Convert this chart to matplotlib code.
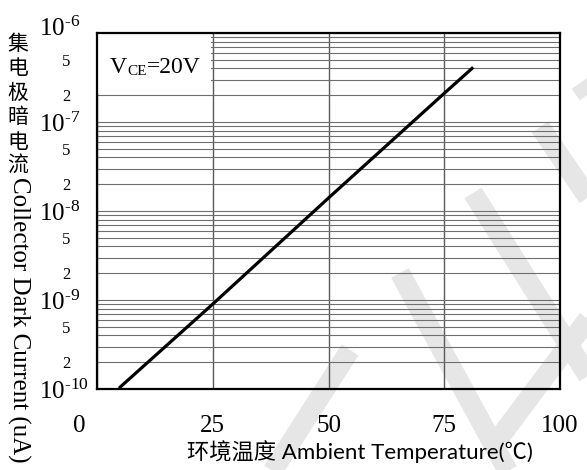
import numpy as np
import matplotlib
matplotlib.use("Agg")
import matplotlib.pyplot as plt
from matplotlib.lines import Line2D
from matplotlib.patches import Rectangle
from matplotlib.ticker import FixedLocator, FuncFormatter
from matplotlib.transforms import ScaledTranslation

plt.rcParams['mathtext.fontset'] = 'custom'
plt.rcParams['mathtext.rm'] = 'Liberation Serif'
plt.rcParams['mathtext.it'] = 'Liberation Serif:italic'

# data
temp = [5, 25, 50, 75, 81]
dark_current = [1.05e-10, 9.0e-10, 1.4e-8, 2.1e-7, 4.0e-7]

x_ticks = [0, 25, 50, 75, 100]
x_labels = ["0", "25", "50", "75", "100"]
decades = [1e-10, 1e-9, 1e-8, 1e-7, 1e-6]
minor_labeled = [2, 5]

W, H = 587, 470
fig = plt.figure(figsize=(W / 100, H / 100), dpi=100)
fig.patch.set_facecolor("white")

def px(x, y):
    return x / W, 1 - y / H

# faint watermark stripes behind the chart
wm = [((272, 472), (350, 350)), ((400, 273), (510, 475)), ((494, 445), (600, 303)),
      ((473, 193), (600, 395)), ((540, 127), (600, 215)), ((580, 83), (600, 112))]
for (a, b) in wm:
    (x0, y0), (x1, y1) = px(*a), px(*b)
    fig.add_artist(Line2D([x0, x1], [y0, y1], transform=fig.transFigure, color="#e6e6e6",
                          lw=14.5, solid_capstyle="butt", zorder=-1))

ax = fig.add_axes([97 / W, 1 - 389 / H, 463 / W, 356 / H])
ax.set_facecolor("none")
ax.set_yscale("log")
ax.set_xlim(0, 100)
ax.set_ylim(1e-10, 1e-6)

ax.plot(temp, dark_current, color="black", lw=2.3, zorder=3)

# grid
ax.set_axisbelow(True)
ax.xaxis.set_major_locator(FixedLocator(x_ticks))
ax.set_xticklabels(x_labels)
ax.yaxis.set_major_locator(FixedLocator(decades))
minors = [m * d for d in decades[:-1] for m in range(2, 10)]
ax.yaxis.set_minor_locator(FixedLocator(minors))

def major_fmt(v, pos):
    e = int(round(np.log10(v)))
    return r"$\mathregular{10^{\text{-}%d}}$" % abs(e)

def minor_fmt(v, pos):
    m = int(round(v / 10 ** np.floor(np.log10(v) + 1e-9)))
    return str(m) if m in minor_labeled else ""

ax.yaxis.set_major_formatter(FuncFormatter(major_fmt))
ax.yaxis.set_minor_formatter(FuncFormatter(minor_fmt))
ax.grid(True, which="major", axis="x", color="#5a5a5a", lw=1.0)
ax.grid(True, which="both", axis="y", color="#6e6e6e", lw=0.8)

ax.tick_params(which="both", length=0)
ax.tick_params(axis="x", pad=19, labelsize=18)
ax.tick_params(axis="y", which="major", pad=42, labelsize=18)
ax.tick_params(axis="y", which="minor", pad=19, labelsize=12)
for lab in ax.get_xticklabels() + ax.get_yticklabels(which="both"):
    lab.set_fontfamily("Liberation Serif")
for lab in ax.get_yticklabels():
    lab.set_ha("left")
lab0 = ax.get_xticklabels()[0]
lab0.set_transform(lab0.get_transform() + ScaledTranslation(-0.18, 0, fig.dpi_scale_trans))
lab_top = ax.get_yticklabels()[-1]
lab_top.set_transform(lab_top.get_transform() + ScaledTranslation(0, 0.07, fig.dpi_scale_trans))

for s in ax.spines.values():
    s.set_linewidth(1.6)
    s.set_color("black")

# white box with the test condition
ax.add_patch(Rectangle((0, 2.1e-7), 24.6, 1e-6 - 2.1e-7, fc="white", ec="none", zorder=1))
t1 = ax.text(0.028, 0.888, "V", transform=ax.transAxes, fontsize=17,
             family="Liberation Serif", va="baseline", ha="left", zorder=4)
t2 = ax.annotate("CE", xy=(1, 0), xycoords=t1, fontsize=11, family="Liberation Serif",
                 va="bottom", ha="left", zorder=4)
ax.annotate("=20V", xy=(1, 0), xycoords=t2, fontsize=17, family="Liberation Serif",
            va="bottom", ha="left", zorder=4)

# y label: stacked Chinese + rotated English
for i, ch in enumerate("集电极暗电流"):
    fig.text(*px(18, 44 + i * 24.4), ch, fontsize=15, family=["Noto Sans CJK SC"],
             ha="center", va="center")
fig.text(*px(19, 177), "Collector Dark Current (uA)", rotation=270, fontsize=18,
         family="Liberation Serif", ha="center", va="top")

# x label
fig.text(*px(360, 452), "环境温度 Ambient Temperature(℃)", fontsize=16,
         family=["Lato", "Noto Sans CJK SC"], ha="center", va="center")

fig.savefig("out.png", dpi=100)
